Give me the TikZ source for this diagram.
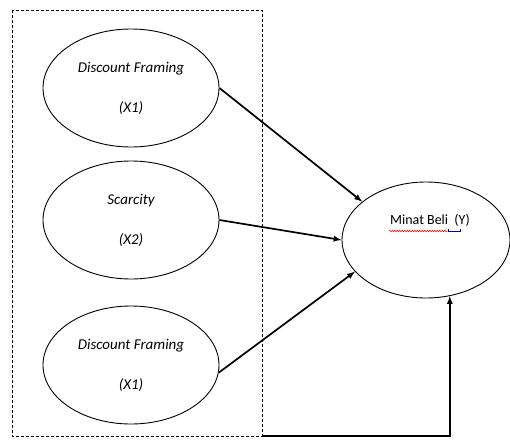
\documentclass[tikz,border=0pt]{standalone}
\usepackage{fontspec}
\setmainfont{Carlito}
\usetikzlibrary{shapes,arrows,decorations.pathmorphing}

\tikzset{
    var/.style={draw, ellipse, line width=0.9pt, minimum width=176pt, minimum height=118pt,
        align=center, font=\fontsize{15}{18}\selectfont\itshape},
    dep/.style={draw, ellipse, line width=0.9pt, minimum width=168pt, minimum height=116pt},
    path/.style={-latex, line width=1.7pt},
    frame/.style={dash pattern=on 3pt off 2pt, line width=0.7pt}
}

\begin{document}
\begin{tikzpicture}[x=1pt, y=-1pt]
\useasboundingbox (0,0) rectangle (510,444);
% independent variables
\draw [frame] (12,10) rectangle (262,436);
\coordinate (corner) at (262,436);
\node[var] (x1) at (131,88) {Discount Framing\\[22pt](X1)};
\node[var] (x2) at (131,220) {Scarcity\\[22pt](X2)};
\node[var] (x3) at (131,365) {Discount Framing\\[22pt](X1)};
% dependent variable
\node[dep] (y) at (426,240) {};
\node[font=\fontsize{14}{17}\selectfont] (ylabel) at (430,220) {Minat Beli\ \ (Y)};
\draw [red, line width=0.5pt, decorate, decoration={snake, amplitude=0.8pt, segment length=2.5pt}]
    (389,231) -- (448,231);
\draw [blue!70!black, line width=0.6pt] (448,229) -- (448,231) -- (460,231) -- (460,229);
% paths
\draw [path] (x1.east) -- (y.149);
\draw [path] (x2.east) -- (y.west);
\draw [path] (x3.-5) -- (y.204);
\draw [path] (corner) -| (y.293);
\end{tikzpicture}
\end{document}
